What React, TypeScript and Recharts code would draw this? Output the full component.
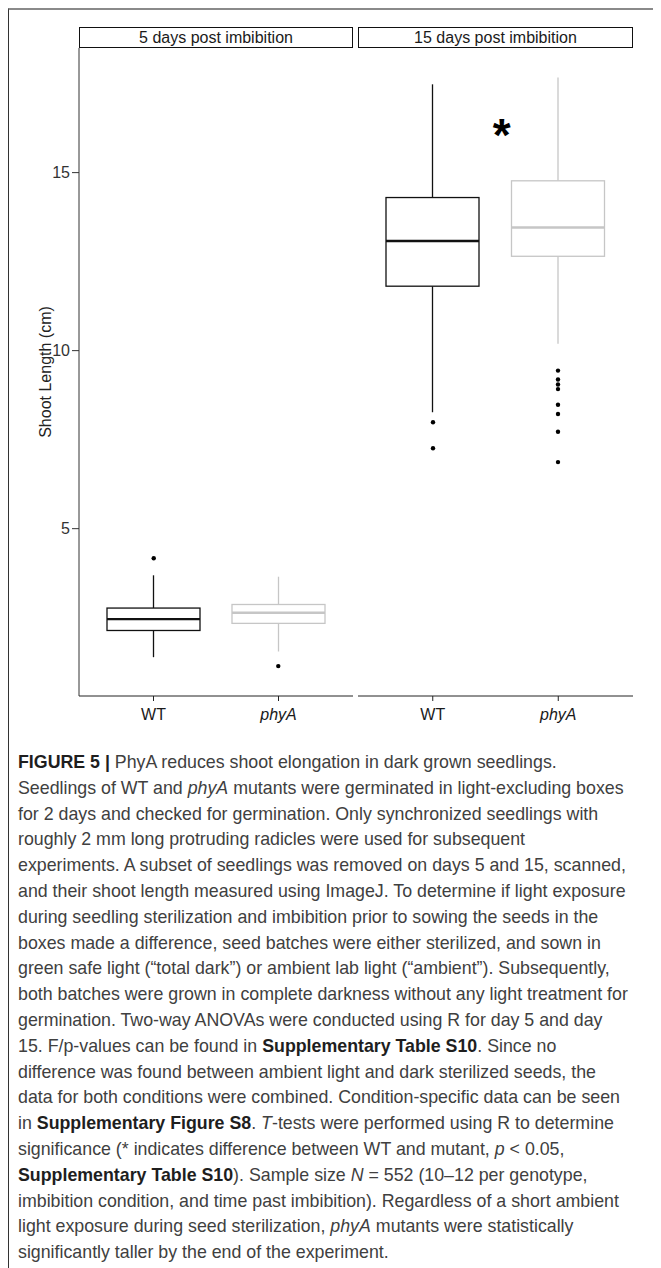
import React from "react";
import { ComposedChart, Bar, Scatter, XAxis, YAxis } from "recharts";

const GENOTYPES = ["WT", "phyA"];
const PANEL_TITLES = ["5 days post imbibition", "15 days post imbibition"];
const Y_TICKS = [5, 10, 15];
const Y_DOMAIN: [number, number] = [0.3, 18.5];

// box stats: [lower whisker, Q1, median, Q3, upper whisker]
const DAY5_WT = [1.39, 2.14, 2.46, 2.77, 3.69];
const DAY5_PHYA = [1.55, 2.34, 2.64, 2.87, 3.65];
const DAY15_WT = [8.27, 11.81, 13.08, 14.3, 17.48];
const DAY15_PHYA = [10.19, 12.65, 13.46, 14.77, 17.67];

// outlying points
const DAY5_WT_OUT = [4.17];
const DAY5_PHYA_OUT = [1.14];
const DAY15_WT_OUT = [7.99, 7.26];
const DAY15_PHYA_OUT = [9.44, 9.19, 9.05, 8.92, 8.48, 8.22, 7.72, 6.87];

// significance mark (x between genotypes, y in cm)
const STAR_DAY15 = [{ x: 1.55, y: 16.3 }];

const COLORS: Record<string, string> = { WT: "#111111", phyA: "#c6c6c6" };
const FONT = "'Liberation Sans', Arial, Helvetica, sans-serif";

function boxRows(stats: number[][]) {
  return GENOTYPES.map((g, i) => {
    const [lo, q1, med, q3, hi] = stats[i];
    return { geno: g, range: [lo, hi], lo, q1, med, q3, hi };
  });
}

function outlierRows(outs: number[][]) {
  return outs.flatMap((vals, i) => vals.map((v) => ({ x: i + 1, y: v })));
}

function BoxShape(props: any) {
  const { x, y, width, height, payload } = props;
  const top = Math.min(y, y + height);
  const h = Math.abs(height);
  const { lo, q1, med, q3, hi, geno } = payload;
  const color = COLORS[geno];
  const py = (v: number) => top + (h * (hi - v)) / (hi - lo);
  const cx = x + width / 2;
  return (
    <g>
      <line x1={cx} x2={cx} y1={py(hi)} y2={py(q3)} stroke={color} strokeWidth={1.3} />
      <line x1={cx} x2={cx} y1={py(q1)} y2={py(lo)} stroke={color} strokeWidth={1.3} />
      <rect x={x} y={py(q3)} width={width} height={py(q1) - py(q3)} fill="#fff" stroke={color} strokeWidth={1.3} />
      <line x1={x} x2={x + width} y1={py(med)} y2={py(med)} stroke={color} strokeWidth={2.4} />
    </g>
  );
}

const Dot = (p: any) => <circle cx={p.cx} cy={p.cy} r={2.2} fill="#000" />;

const Star = (p: any) => (
  <text x={p.cx} y={p.cy + 25} textAnchor="middle" fontSize={46} fontWeight="bold" fill="#000">
    *
  </text>
);

const GenoTick = ({ x, y, payload }: any) => (
  <text
    x={x}
    y={y}
    dy={17}
    textAnchor="middle"
    fontSize={16}
    fontStyle={payload.value === "phyA" ? "italic" : "normal"}
    fill="#1a1a1a"
  >
    {payload.value}
  </text>
);

function Panel({ stats, outs, showY, width, star }: any) {
  return (
    <ComposedChart
      width={width}
      height={688}
      data={boxRows(stats)}
      margin={{ top: 0, right: 0, bottom: 0, left: 0 }}
      barSize={93}
    >
      <XAxis
        dataKey="geno"
        padding={{ left: 12, right: 12 }}
        height={40}
        tickSize={5}
        stroke="#222"
        tick={<GenoTick />}
      />
      <XAxis xAxisId="num" type="number" dataKey="x" domain={[0.4, 2.6]} allowDataOverflow hide />
      <YAxis
        hide={!showY}
        width={71}
        domain={Y_DOMAIN}
        allowDataOverflow
        ticks={Y_TICKS}
        tickSize={7}
        stroke="#333"
        tick={{ fontSize: 16, fill: "#333" }}
        label={
          showY
            ? {
                value: "Shoot Length (cm)",
                angle: -90,
                position: "insideLeft",
                offset: 37,
                style: { textAnchor: "middle", fontSize: 16, fill: "#222" },
              }
            : undefined
        }
      />
      <Bar dataKey="range" shape={<BoxShape />} isAnimationActive={false} />
      <Scatter xAxisId="num" data={outlierRows(outs)} dataKey="y" shape={Dot} isAnimationActive={false} />
      {star && <Scatter xAxisId="num" data={star} dataKey="y" shape={Star} isAnimationActive={false} />}
    </ComposedChart>
  );
}

type Seg = { t: string; b?: boolean; i?: boolean };
const CAPTION: Seg[][] = [
  [{ t: "FIGURE 5 |", b: true }, { t: " PhyA reduces shoot elongation in dark grown seedlings." }],
  [{ t: "Seedlings of WT and " }, { t: "phyA", i: true }, { t: " mutants were germinated in light-excluding boxes" }],
  [{ t: "for 2 days and checked for germination. Only synchronized seedlings with" }],
  [{ t: "roughly 2 mm long protruding radicles were used for subsequent" }],
  [{ t: "experiments. A subset of seedlings was removed on days 5 and 15, scanned," }],
  [{ t: "and their shoot length measured using ImageJ. To determine if light exposure" }],
  [{ t: "during seedling sterilization and imbibition prior to sowing the seeds in the" }],
  [{ t: "boxes made a difference, seed batches were either sterilized, and sown in" }],
  [{ t: "green safe light (\u201ctotal dark\u201d) or ambient lab light (\u201cambient\u201d). Subsequently," }],
  [{ t: "both batches were grown in complete darkness without any light treatment for" }],
  [{ t: "germination. Two-way ANOVAs were conducted using R for day 5 and day" }],
  [{ t: "15. F/p-values can be found in " }, { t: "Supplementary Table S10", b: true }, { t: ". Since no" }],
  [{ t: "difference was found between ambient light and dark sterilized seeds, the" }],
  [{ t: "data for both conditions were combined. Condition-specific data can be seen" }],
  [{ t: "in " }, { t: "Supplementary Figure S8", b: true }, { t: ". " }, { t: "T", i: true }, { t: "-tests were performed using R to determine" }],
  [{ t: "significance (* indicates difference between WT and mutant, " }, { t: "p", i: true }, { t: " < 0.05," }],
  [{ t: "Supplementary Table S10", b: true }, { t: "). Sample size " }, { t: "N", i: true }, { t: " = 552 (10\u201312 per genotype," }],
  [{ t: "imbibition condition, and time past imbibition). Regardless of a short ambient" }],
  [{ t: "light exposure during seed sterilization, " }, { t: "phyA", i: true }, { t: " mutants were statistically" }],
  [{ t: "significantly taller by the end of the experiment." }],
];

const stripStyle = (left: number, width: number): React.CSSProperties => ({
  position: "absolute",
  left,
  top: 19,
  width,
  height: 21,
  boxSizing: "border-box",
  border: "1.3px solid #111",
  textAlign: "center",
  fontSize: 16,
  lineHeight: "19px",
  color: "#1a1a1a",
});

export default function App() {
  return (
    <div style={{ position: "relative", width: 653, height: 1260, fontFamily: FONT, background: "#fff" }}>
      <div
        style={{
          position: "absolute",
          left: 0,
          top: 0,
          width: 653,
          height: 1260,
          boxSizing: "border-box",
          borderTop: "2px solid #8a8a8a",
          borderLeft: "1.3px solid #333",
        }}
      />
      <div style={stripStyle(71, 274)}>{PANEL_TITLES[0]}</div>
      <div style={stripStyle(350, 275)}>{PANEL_TITLES[1]}</div>
      <div style={{ position: "absolute", left: 0, top: 40 }}>
        <Panel stats={[DAY5_WT, DAY5_PHYA]} outs={[DAY5_WT_OUT, DAY5_PHYA_OUT]} showY width={345} />
      </div>
      <div style={{ position: "absolute", left: 350, top: 40 }}>
        <Panel
          stats={[DAY15_WT, DAY15_PHYA]}
          outs={[DAY15_WT_OUT, DAY15_PHYA_OUT]}
          showY={false}
          width={275}
          star={STAR_DAY15}
        />
      </div>
      <div style={{ position: "absolute", left: 10, top: 742, fontSize: 17.8, lineHeight: "25.8px", color: "#404040" }}>
        {CAPTION.map((line, k) => (
          <div key={k} style={{ whiteSpace: "nowrap" }}>
            {line.map((s, j) => (
              <span key={j} style={{ fontWeight: s.b ? "bold" : "normal", fontStyle: s.i ? "italic" : "normal", color: s.b ? "#1e1e1e" : undefined }}>
                {s.t}
              </span>
            ))}
          </div>
        ))}
      </div>
    </div>
  );
}
